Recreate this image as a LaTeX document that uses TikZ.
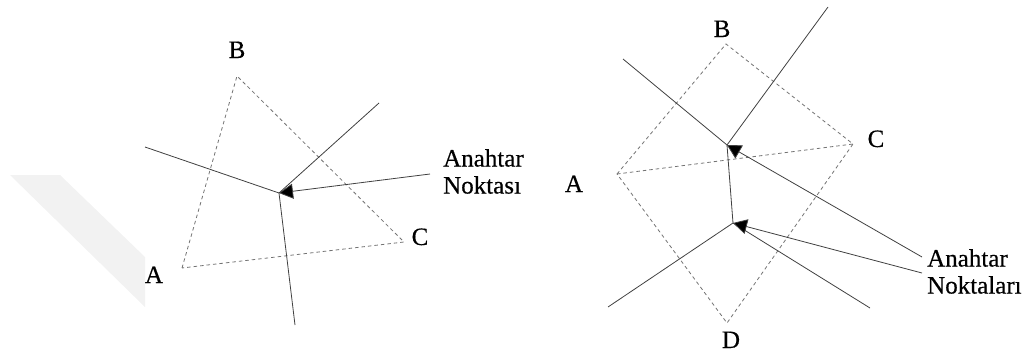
\documentclass[tikz,border=0pt]{standalone}
\usepackage{fontspec}
\setmainfont[FakeBold=0.4]{Liberation Serif}
\usetikzlibrary{arrows.meta}
\begin{document}
\begin{tikzpicture}[x=1pt,y=-1pt,
  edge/.style={draw=black!75, line width=0.8pt},
  tri/.style={draw=black!55, line width=0.8pt, dash pattern=on 3.5pt off 3pt},
  ptr/.style={edge, -{Triangle[length=14pt,width=15pt,fill=black]}},
  lbl/.style={font=\fontsize{25}{27}\selectfont, inner sep=0pt, anchor=base},
  captext/.style={font=\fontsize{25}{27}\selectfont, inner sep=0pt, anchor=north west, align=left}]
\useasboundingbox (0,0) rectangle (1028,356);
% faint shadow
\fill[black!5] (10,175) -- (60,175) -- (145,257) -- (145,307) -- cycle;
% ---------- left figure ----------
\coordinate (lA) at (182,268);
\coordinate (lB) at (237,76);
\coordinate (lC) at (404,242);
\coordinate (lK) at (279,193);
\coordinate (lE1) at (145,147);
\coordinate (lE2) at (379,103);
\coordinate (lE3) at (295,325);
\node[lbl] (tlA) at (154,283) {A};
\node[lbl] (tlB) at (237,58) {B};
\node[lbl] (tlC) at (420,245) {C};
\draw[tri] (lA) -- (lB) -- (lC) -- cycle;
\draw[edge] (lE1) -- (lK);
\draw[edge] (lE2) -- (lK);
\draw[edge] (lK) -- (lE3);
\node[captext] (capL) at (443,149) {Anahtar\\Noktası};
\coordinate (lS) at (430,174);
\draw[ptr] (lS) -- (lK);
% ---------- right figure ----------
\coordinate (rA) at (617,174);
\coordinate (rB) at (726,44);
\coordinate (rC) at (853,144);
\coordinate (rD) at (727,323);
\coordinate (rK1) at (727,145);
\coordinate (rK2) at (733,223);
\coordinate (rE1) at (623,59);
\coordinate (rE2) at (828,7);
\coordinate (rE3) at (608,307);
\coordinate (rE4) at (870,308);
\node[lbl] (trA) at (574,192) {A};
\node[lbl] (trB) at (722,37) {B};
\node[lbl] (trC) at (876,147) {C};
\node[lbl] (trD) at (731,348) {D};
\draw[tri] (rA) -- (rB) -- (rC) -- (rD) -- cycle;
\draw[tri] (rA) -- (rC);
\draw[edge] (rE1) -- (rK1);
\draw[edge] (rE2) -- (rK1);
\draw[edge] (rK1) -- (rK2);
\draw[edge] (rK2) -- (rE3);
\draw[edge] (rK2) -- (rE4);
\node[captext] (capR) at (927,249) {Anahtar\\Noktaları};
\coordinate (rS1) at (922,257);
\coordinate (rS2) at (922,273);
\draw[ptr] (rS1) -- (rK1);
\draw[ptr] (rS2) -- (rK2);
\end{tikzpicture}
\end{document}
